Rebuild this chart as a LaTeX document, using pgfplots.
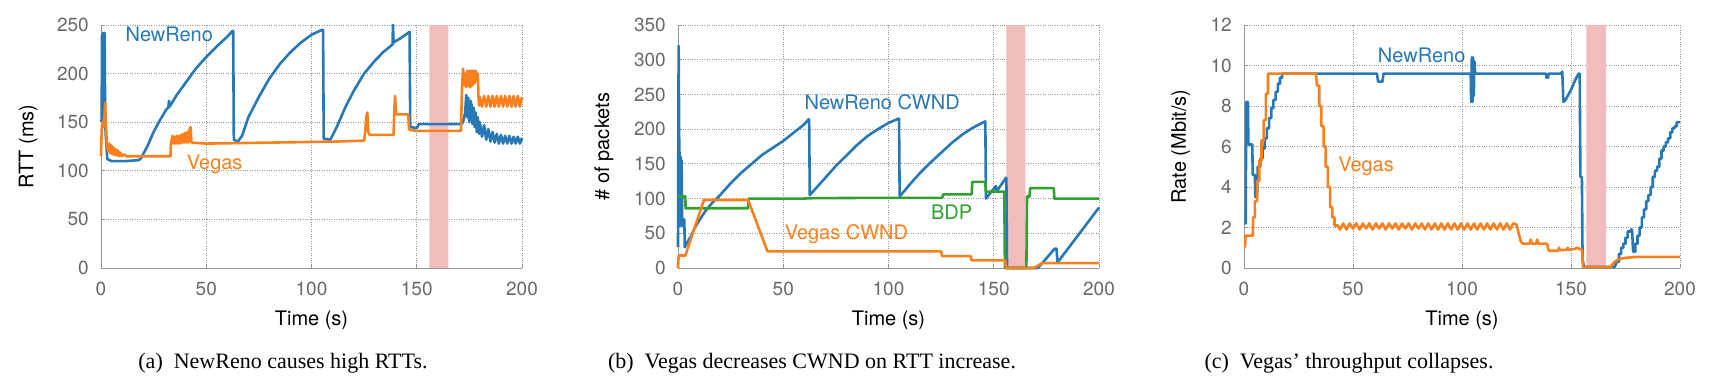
\documentclass[border=0pt]{standalone}
\usepackage{pgfplots}
\pgfplotsset{compat=1.18}
\usepackage{fontspec}
\setmainfont{Liberation Serif}
\setsansfont{TeX Gyre Heros}
\definecolor{cblue}{RGB}{40,120,181}
\definecolor{corange}{RGB}{250,128,30}
\definecolor{cgreen}{RGB}{48,160,48}
\definecolor{shade}{RGB}{240,188,188}
\definecolor{tickgray}{RGB}{105,105,105}
\definecolor{axgray}{RGB}{150,150,150}
\newcommand{\pf}{\sffamily\fontsize{19}{19}\selectfont}
\newcommand{\lf}{\sffamily\fontsize{20}{20}\selectfont}
\pgfplotsset{myax/.style={
  scale only axis, height=243pt, xmin=0, xmax=200, xtick={0,50,100,150,200},
  axis x line*=bottom, axis y line*=left, clip=false,
  axis line style={axgray, line width=0.8pt},
  grid=major, grid style={axgray, line width=0.8pt, dash pattern=on 0.8pt off 1.6pt},
  tick align=inside, major tick length=4pt, tick style={axgray, line width=0.8pt},
  /pgf/number format/assume math mode=true,
  ticklabel style={font=\pf, text=tickgray},
  xticklabel style={anchor=center, yshift=-21pt},
  yticklabel style={anchor=east, inner sep=0pt, xshift=-12pt},
  label style={font=\lf, text=black},
  xlabel style={at={(axis description cs:0.5,-0.214)}, anchor=center},
  every axis plot/.append style={line width=2.6pt, line join=round},
}}
\begin{document}
\begin{tikzpicture}
\useasboundingbox (0,0) rectangle (1717pt,391pt);
% ---------------- (a) RTT
\begin{axis}[myax, width=421pt, at={(101pt,123pt)}, anchor=south west,
  ymin=0, ymax=250, ytick={0,50,...,250},
  xlabel={Time (s)}, ylabel={RTT (ms)},
  ylabel style={at={(axis description cs:-0.173,0.5)}, anchor=center}]
\addplot[fill=shade, draw=none, forget plot] coordinates {(156,0)(156,250)(165,250)(165,0)} \closedcycle;
\addplot[cblue] coordinates {(0,150)(0.3,152)(0.5,240)(0.7,155)(0.9,242)(1.1,160)(1.3,240)(1.5,150)(1.7,242)(2,150)(2.3,135)(3,112)(5,110)(12,110)(18,111)(19,113)(22,125)(25,140)(28,152)(31,163)(32,165)(32.3,172)(32.6,166)(36,178)(40,190)(45,205)(50,217)(55,228)(60,238)(62.5,244)(62.8,244)(63.1,132)(65,130)(67,136)(70,155)(75,176)(80,195)(85,210)(90,222)(95,232)(100,240)(105,245)(105.5,245)(105.8,133)(109,132)(112,145)(116,165)(120,182)(125,200)(130,213)(134,222)(138.5,230)(138.7,250)(139,232)(142,236)(146,242)(146.6,243)(146.9,145)(150,144)(151,148)(171,148)(172,150)(173,160)(173.5,178)(174,155)(174.5,175)(175,150)(175.5,172)(176,168)(176.5,148)(177,165)(177.5,145)(178,160)(178.5,140)(179,155)(179.5,138)(180,150)(181,135)(182,147)(183,132)(184,143)(185,130)(186,140)(187,129)(188,138)(189,128)(190,137)(191,128)(192,136)(193,128)(194,136)(195,128)(196,135)(197,128)(198,135)(199,128)(200,134)};
\addplot[corange] coordinates {(0,115)(0.3,140)(0.6,150)(1,145)(1.5,150)(2,170)(2.3,150)(2.8,125)(3.5,120)(4,128)(4.5,118)(5,126)(5.5,117)(6,124)(6.5,116)(7,122)(7.5,116)(8,121)(8.5,115)(9,119)(10,115)(11,117)(12,115)(33,115)(33.2,128)(34,136)(34.5,128)(35,135)(35.5,128)(36,136)(36.5,128)(37,136)(37.5,128)(38,137)(38.5,129)(39,138)(39.5,129)(40,139)(40.5,129)(41,140)(41.5,129)(42,142)(42.5,145)(43,129)(50,128)(80,129)(110,130)(125,131)(125.5,140)(126,155)(126.5,160)(127,140)(127.5,137)(139,137)(139.3,160)(139.7,177)(140.2,158)(146,158)(146.3,143)(147,142)(150,141)(171,141)(171.5,185)(172,205)(172.5,188)(173,200)(173.5,186)(174,203)(174.5,187)(175,203)(175.5,186)(176,203)(176.5,188)(177,203)(177.5,190)(178,203)(178.5,193)(179,200)(179.3,178)(179.6,167)(180,176)(181,166)(182,177)(183,166)(184,177)(185,166)(186,177)(187,166)(188,177)(189,166)(190,177)(191,166)(192,177)(193,166)(194,177)(195,166)(196,177)(197,166)(198,177)(199,166)(200,176)};
\node[font=\lf, text=cblue, anchor=west] at (axis cs:10,240) {NewReno};
\node[font=\lf, text=corange, anchor=center] at (axis cs:54,107) {Vegas};
\end{axis}
% ---------------- (b) CWND
\begin{axis}[myax, width=421pt, at={(678pt,123pt)}, anchor=south west,
  ymin=0, ymax=350, ytick={0,50,...,350},
  xlabel={Time (s)}, ylabel={\# of packets},
  ylabel style={at={(axis description cs:-0.176,0.5)}, anchor=center}]
\addplot[fill=shade, draw=none, forget plot] coordinates {(156,0)(156,350)(165,350)(165,0)} \closedcycle;
\addplot[cblue] coordinates {(0,30)(0.3,320)(0.6,170)(0.9,160)(1.1,60)(1.3,160)(1.5,65)(1.7,155)(2,70)(2.3,60)(2.5,70)(3,70)(3.2,30)(4,35)(6,45)(8,58)(10,68)(13,82)(16,93)(20,105)(25,122)(30,137)(35,150)(40,163)(45,173)(50,183)(55,195)(60,207)(62,214)(62.3,214)(62.6,105)(65,113)(70,130)(75,147)(80,162)(85,177)(90,190)(95,200)(100,209)(104.7,215)(105,215)(105.3,103)(110,120)(115,137)(120,152)(125,166)(130,180)(135,192)(140,202)(145.8,211)(146,211)(146.3,100)(151,118)(151.3,110)(155.8,130)(156,130)(156.3,0)(171,0)(179,28)(179.8,28)(180.3,8)(200,87)};
\addplot[cgreen] coordinates {(0,103)(3.5,103)(3.6,86)(33.3,86)(33.6,100)(60,100)(62,100.5)(90,101)(125.5,101)(126,106)(139.5,106)(139.8,124)(146,124)(146.2,110)(155,110)(155.3,0)(165.5,0)(165.8,103)(167,103)(167.3,115)(178.5,115)(178.8,100)(200,100)};
\addplot[corange] coordinates {(0,0)(0.3,18)(3.5,18)(12.3,98)(33.3,98)(42.5,24)(125,24)(125.5,17)(139,17)(139.5,11)(155.5,11)(155.8,0)(169,0)(173,7)(200,7)};
\node[font=\lf, text=cblue] at (axis cs:97,239) {NewReno CWND};
\node[font=\lf, text=cgreen] at (axis cs:130,81) {BDP};
\node[font=\lf, text=corange] at (axis cs:80,49) {Vegas CWND};
\end{axis}
% ---------------- (c) Rate
\begin{axis}[myax, width=436pt, at={(1244pt,123pt)}, anchor=south west,
  ymin=0, ymax=12, ytick={0,2,...,12},
  xlabel={Time (s)}, ylabel={Rate (Mbit/s)},
  ylabel style={at={(axis description cs:-0.145,0.5)}, anchor=center}]
\addplot[fill=shade, draw=none, forget plot] coordinates {(157,0)(157,12)(166,12)(166,0)} \closedcycle;
\addplot[cblue] coordinates {(0,2.2)(0.8,2.2)(1.0,8.2)(1.8,8.2)(2.0,6.1)(3.8,6.1)(4.0,4.6)(5.0,4.6)(5.2,3.5)(6.0,3.5)(6.3,5.0)(7.5,5.0)(7.5,5.4)(8.5,5.4)(8.5,5.9)(9.5,5.9)(9.5,6.4)(10.5,6.4)(10.5,6.9)(11.5,6.9)(11.5,7.4)(12.5,7.4)(12.5,7.9)(13.5,7.9)(13.5,8.3)(14.5,8.3)(14.5,8.7)(15.5,8.7)(15.5,9.1)(16.5,9.1)(16.5,9.4)(17.5,9.4)(17.5,9.6)(61,9.6)(61.5,9.2)(63.5,9.2)(64,9.6)(104,9.6)(104.2,8.2)(104.5,10.4)(104.8,8.2)(105.1,10.4)(105.4,8.5)(105.7,10.2)(106,9.6)(138.5,9.6)(138.7,9.4)(139.5,9.4)(139.7,9.6)(145.5,9.6)(146,9.7)(146.5,8.2)(147.5,8.3)(150,8.8)(152,9.3)(153.5,9.6)(154,9.6)(154.3,4.5)(155,4.5)(155.3,0.4)(156,0.05)(170,0.05)(171,0.3)(172,0.3)(172,0.7)(173,0.7)(173,1.0)(174,1.0)(174,1.2)(175,1.2)(175,1.5)(176,1.5)(176,1.8)(177.5,1.8)(177.5,1.9)(178,1.9)(178.5,0.8)(179.5,0.8)(179.5,1.2)(180.5,1.2)(180.5,1.6)(181.5,1.6)(181.5,2.0)(182.5,2.0)(182.5,2.5)(183.5,2.5)(183.5,2.9)(184.5,2.9)(184.5,3.3)(185.5,3.3)(185.5,3.6)(186.5,3.6)(186.5,4.0)(187.5,4.0)(187.5,4.5)(188.5,4.5)(188.5,4.8)(189.5,4.8)(189.5,5.0)(190.5,5.0)(190.5,5.4)(191.5,5.4)(191.5,5.8)(192.5,5.8)(192.5,6.0)(193.5,6.0)(193.5,6.2)(194.5,6.2)(194.5,6.4)(195.5,6.4)(195.5,6.7)(196.5,6.7)(196.5,6.9)(197.5,6.9)(197.5,7.0)(198.5,7.0)(198.5,7.2)(200,7.2)};
\addplot[corange] coordinates {(0,1.05)(0.5,1.05)(0.7,1.6)(4,1.6)(4.2,2.5)(5,2.5)(5,3.3)(6,3.3)(6,4.3)(7,4.3)(7,5.3)(8,5.3)(8,6.3)(9,6.3)(9,7.3)(10,7.3)(10,8.6)(11,8.6)(11,9.6)(33,9.6)(33.5,9.0)(34.5,9.0)(34.5,8.0)(35.5,8.0)(35.5,7.0)(36.5,7.0)(36.5,6.0)(37.5,6.0)(37.5,5.0)(38.5,5.0)(38.5,4.0)(39.5,4.0)(39.5,3.0)(40.5,3.0)(40.5,2.5)(41.5,2.5)(41.5,2.1)(43,2.1)(44,1.9)(45.5,2.2)(47,1.9)(48.5,2.2)(50,1.95)(51.5,2.2)(53,1.9)(54.5,2.2)(56,1.95)(57.5,2.2)(59,1.9)(60.5,2.2)(62,1.95)(63.5,2.2)(65,1.9)(66.5,2.2)(68,1.95)(69.5,2.2)(71,1.9)(72.5,2.2)(74,1.95)(75.5,2.2)(77,1.9)(78.5,2.2)(80,1.95)(81.5,2.2)(83,1.9)(84.5,2.2)(86,1.9)(87.5,2.2)(89,1.9)(90.5,2.2)(92,1.9)(93.5,2.2)(95,1.9)(96.5,2.2)(98,1.9)(99.5,2.2)(101,1.9)(102.5,2.2)(104,1.9)(105.5,2.2)(107,1.9)(108.5,2.2)(110,1.9)(111.5,2.2)(113,1.9)(114.5,2.2)(116,1.9)(117.5,2.2)(119,1.9)(120.5,2.2)(122,1.9)(123.5,2.2)(125,2.15)(126,1.7)(127,1.3)(128,1.2)(131,1.2)(131.5,1.4)(132,1.2)(134,1.2)(134.5,1.4)(135,1.2)(139,1.2)(139.5,0.95)(140,0.85)(144,0.85)(144.5,1.0)(145,0.88)(148,0.9)(148.5,1.0)(149,0.9)(152,0.95)(152.5,1.0)(155,0.9)(155.2,0.7)(155.5,0.05)(168,0.05)(170,0.3)(172,0.45)(175,0.5)(180,0.55)(200,0.55)};
\node[font=\lf, text=cblue] at (axis cs:81.5,10.5) {NewReno};
\node[font=\lf, text=corange] at (axis cs:56,5.0) {Vegas};
\end{axis}
% captions
\node[font=\rmfamily\fontsize{22}{22}\selectfont, anchor=center] at (283pt,28pt) {(a)~ NewReno causes high RTTs.};
\node[font=\rmfamily\fontsize{22}{22}\selectfont, anchor=center] at (812pt,28pt) {(b)~ Vegas decreases CWND on RTT increase.};
\node[font=\rmfamily\fontsize{22}{22}\selectfont, anchor=center] at (1349pt,28pt) {(c)~ Vegas' throughput collapses.};
\end{tikzpicture}
\end{document}
